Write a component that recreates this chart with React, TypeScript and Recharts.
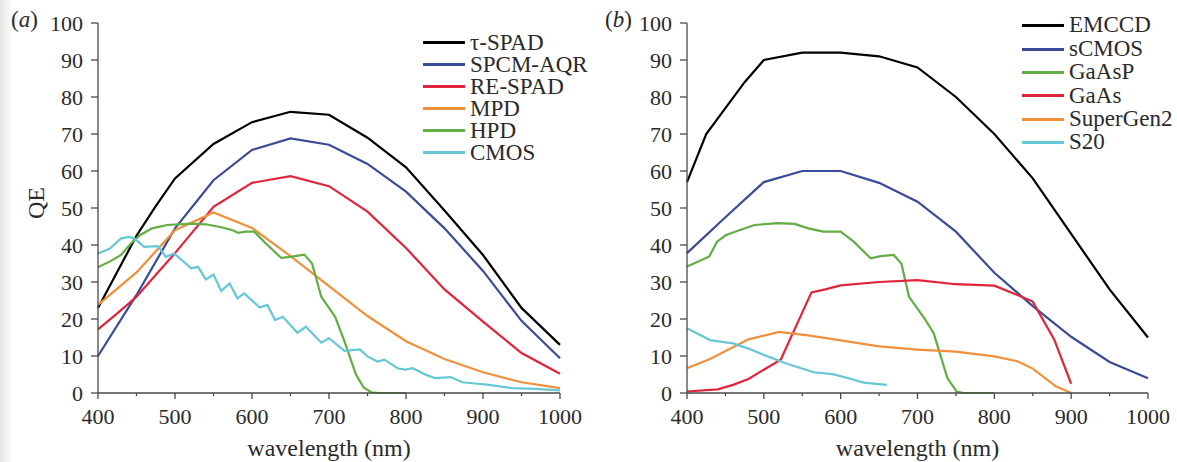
import React from 'react';
import { LineChart, Line, XAxis, YAxis, Legend } from 'recharts';

// wavelength (nm), QE (%) pairs
const tauSpad: [number, number][] = [[400, 23], [450, 42.5], [475, 50.5], [500, 58], [550, 67.3], [600, 73.2], [650, 76], [700, 75.2], [750, 69], [800, 61], [850, 49.3], [900, 37.3], [950, 23], [1000, 13]];
const spcmAqr: [number, number][] = [[400, 10], [450, 26.5], [500, 44.5], [550, 57.5], [600, 65.7], [650, 68.8], [700, 67.1], [750, 61.9], [800, 54.4], [850, 44.5], [900, 33], [950, 19.5], [1000, 9.4]];
const reSpad: [number, number][] = [[400, 17.2], [425, 21.5], [450, 26], [500, 37.8], [550, 50.3], [600, 56.8], [650, 58.6], [700, 55.9], [750, 49], [800, 39.2], [850, 28], [900, 19.3], [950, 10.8], [1000, 5.2]];
const mpd: [number, number][] = [[400, 23.8], [450, 32.6], [500, 44], [550, 48.8], [600, 44.6], [650, 37], [700, 28.9], [750, 20.8], [800, 14], [850, 9.2], [900, 5.6], [950, 2.9], [1000, 1.3]];
const hpd: [number, number][] = [[400, 34], [415, 35.5], [430, 37.3], [443, 40.5], [455, 42.7], [470, 44.5], [490, 45.4], [520, 45.8], [540, 45.6], [560, 44.8], [575, 44], [582, 43.3], [592, 43.6], [603, 43.6], [618, 40.4], [638, 36.5], [650, 36.8], [668, 37.4], [678, 35], [690, 26], [708, 20.6], [720, 14], [735, 5], [745, 1.5], [755, 0.2], [765, 0], [800, 0]];
const cmos: [number, number][] = [[400, 37.7], [415, 39], [430, 41.8], [440, 42.2], [447, 41.8], [460, 39.5], [478, 39.7], [488, 36.8], [499, 37.7], [521, 33.7], [530, 34.1], [540, 30.7], [550, 32], [560, 27.6], [571, 29.6], [581, 25.6], [590, 26.9], [610, 23.1], [620, 23.8], [630, 19.7], [640, 20.6], [659, 16.3], [670, 17.9], [690, 13.6], [700, 14.8], [720, 11.4], [740, 11.8], [750, 9.9], [763, 8.5], [772, 9], [789, 6.7], [799, 6.3], [809, 6.7], [826, 4.9], [838, 4], [858, 4.3], [873, 2.9], [893, 2.5], [908, 2.2], [938, 1.3], [968, 1.1], [1000, 0.7]];

const emccd: [number, number][] = [[400, 57], [425, 70], [450, 77], [475, 84], [500, 90], [550, 92], [600, 92], [650, 91], [700, 88], [750, 80], [800, 70], [850, 58], [900, 43], [950, 28], [1000, 15]];
const scmos: [number, number][] = [[400, 37.8], [450, 47.5], [500, 57], [550, 60], [600, 60], [650, 56.8], [700, 51.7], [750, 43.6], [800, 32.5], [850, 23.5], [900, 15.2], [950, 8.4], [1000, 4]];
const gaasp: [number, number][] = [[400, 34.2], [414, 35.5], [429, 36.9], [439, 40.9], [451, 42.7], [468, 44], [488, 45.4], [518, 45.9], [540, 45.7], [558, 44.5], [577, 43.6], [600, 43.6], [617, 40.9], [639, 36.4], [652, 37], [669, 37.3], [679, 35], [689, 26], [709, 20.2], [721, 16.2], [739, 4], [751, 0.4], [760, 0], [800, 0]];
const gaas: [number, number][] = [[400, 0.4], [440, 1], [460, 2.2], [480, 3.8], [500, 6.3], [522, 9], [562, 27.2], [580, 28], [600, 29.1], [650, 30], [700, 30.5], [750, 29.4], [800, 29], [830, 26.5], [850, 24.7], [878, 14.4], [900, 2.5]];
const superGen2: [number, number][] = [[400, 6.7], [430, 9.2], [480, 14.5], [520, 16.5], [560, 15.5], [600, 14.2], [650, 12.6], [700, 11.7], [750, 11.2], [800, 9.9], [830, 8.6], [850, 6.6], [880, 1.8], [900, 0]];
const s20: [number, number][] = [[400, 17.5], [430, 14.3], [460, 13.4], [480, 12], [500, 10.3], [530, 7.9], [565, 5.6], [590, 5.1], [610, 4], [630, 2.8], [660, 2.2]];

const xTicks = [400, 450, 500, 550, 600, 650, 700, 750, 800, 850, 900, 950, 1000];
const yTicks = [0, 10, 20, 30, 40, 50, 60, 70, 80, 90, 100];

const BLACK = '#000000';
const BLUE = '#3a4b98';
const RED = '#e0243a';
const ORANGE = '#f0903a';
const GREEN = '#62ad44';
const CYAN = '#66c8d6';

type Series = { name: string; data: [number, number][]; color: string };

const seriesA: Series[] = [
  { name: 'τ-SPAD', data: tauSpad, color: BLACK },
  { name: 'SPCM-AQR', data: spcmAqr, color: BLUE },
  { name: 'RE-SPAD', data: reSpad, color: RED },
  { name: 'MPD', data: mpd, color: ORANGE },
  { name: 'HPD', data: hpd, color: GREEN },
  { name: 'CMOS', data: cmos, color: CYAN },
];

const seriesB: Series[] = [
  { name: 'EMCCD', data: emccd, color: BLACK },
  { name: 'sCMOS', data: scmos, color: BLUE },
  { name: 'GaAsP', data: gaasp, color: GREEN },
  { name: 'GaAs', data: gaas, color: RED },
  { name: 'SuperGen2', data: superGen2, color: ORANGE },
  { name: 'S20', data: s20, color: CYAN },
];

const FONT = 'Liberation Serif, DejaVu Serif, serif';
const TEXT = '#2a2a2a';
const AXIS = '#4a4a4a';
const serif: React.CSSProperties = { fontFamily: FONT };

const toPoints = (pairs: [number, number][]) => pairs.map(([wl, qe]) => ({ wl, qe }));

const XTick = (props: any) => {
  const { x, y, payload } = props;
  const major = payload.value % 100 === 0;
  return (
    <g>
      <line x1={x} x2={x} y1={y} y2={y + (major ? 6 : 3)} stroke={AXIS} strokeWidth={1.3} />
      {major && (
        <text x={x} y={y + 31} textAnchor="middle" fill={TEXT} fontSize={22} style={serif}>
          {payload.value}
        </text>
      )}
    </g>
  );
};

const YTick = (props: any) => {
  const { x, y, payload } = props;
  return (
    <text x={x} y={y} textAnchor="end" dominantBaseline="central" fill={TEXT} fontSize={22} style={serif}>
      {payload.value}
    </text>
  );
};

const makeLegend = (series: Series[], rowHeight: number) => () => (
  <div style={{ fontFamily: FONT, fontSize: 23, color: TEXT }}>
    {series.map((s) => (
      <div
        key={s.name}
        style={{ display: 'flex', alignItems: 'center', height: rowHeight, lineHeight: `${rowHeight - 1}px`, whiteSpace: 'nowrap' }}
      >
        <span style={{ width: 42, borderTop: `3px solid ${s.color}` }} />
        <span style={{ marginLeft: 5 }}>{s.name}</span>
      </div>
    ))}
  </div>
);

const QELabel = (props: any) => {
  const { viewBox } = props;
  const cx = viewBox.x + 36;
  const cy = viewBox.y + viewBox.height / 2 - 5;
  return (
    <text x={cx} y={cy} transform={`rotate(-90 ${cx} ${cy})`} textAnchor="middle" dominantBaseline="central" fill={TEXT} fontSize={24} style={serif}>
      QE
    </text>
  );
};

const XLabel = (props: any) => {
  const { viewBox } = props;
  return (
    <text x={viewBox.x + viewBox.width / 2} y={viewBox.y + 63} textAnchor="middle" fill={TEXT} fontSize={24} style={serif}>
      wavelength (nm)
    </text>
  );
};

interface PanelProps {
  series: Series[];
  width: number;
  yAxisWidth: number;
  marginRight: number;
  showQE: boolean;
  legendLeft: number;
  legendTop: number;
  legendRow: number;
}

const Panel: React.FC<PanelProps> = ({ series, width, yAxisWidth, marginRight, showQE, legendLeft, legendTop, legendRow }) => (
  <LineChart width={width} height={462} margin={{ top: 23, right: marginRight, left: 0, bottom: 0 }} style={serif}>
    <XAxis
      type="number"
      dataKey="wl"
      domain={[400, 1000]}
      ticks={xTicks}
      interval={0}
      height={69}
      tickSize={0}
      tickMargin={0}
      tick={<XTick />}
      axisLine={{ stroke: AXIS, strokeWidth: 1.3 }}
      label={<XLabel />}
      allowDuplicatedCategory={false}
    />
    <YAxis
      type="number"
      dataKey="qe"
      domain={[0, 100]}
      ticks={yTicks}
      interval={0}
      width={yAxisWidth}
      tickSize={7}
      tickMargin={8}
      tick={<YTick />}
      tickLine={{ stroke: AXIS, strokeWidth: 1.3 }}
      axisLine={{ stroke: AXIS, strokeWidth: 1.3 }}
      label={showQE ? <QELabel /> : undefined}
    />
    <Legend
      layout="vertical"
      align="center"
      verticalAlign="middle"
      content={makeLegend(series, legendRow)}
      wrapperStyle={{ left: legendLeft, top: legendTop, width: 'auto', height: 'auto' }}
    />
    {series.map((s) => (
      <Line
        key={s.name}
        name={s.name}
        data={toPoints(s.data)}
        dataKey="qe"
        type="linear"
        stroke={s.color}
        strokeWidth={2.2}
        dot={false}
        activeDot={false}
        isAnimationActive={false}
      />
    ))}
  </LineChart>
);

const panelTag: React.CSSProperties = {
  position: 'absolute',
  top: 7,
  fontFamily: FONT,
  fontSize: 23,
  color: TEXT,
};

export default function App() {
  return (
    <div
      style={{
        position: 'absolute',
        left: 0,
        top: 0,
        width: 1177,
        height: 462,
        overflow: 'hidden',
        background: 'linear-gradient(to right, #e6e6e6 0px, #ffffff 14px, #ffffff 100%)',
      }}
    >
      <div style={{ position: 'absolute', left: 0, top: 0 }}>
        <Panel
          series={seriesA}
          width={590}
          yAxisWidth={98}
          marginRight={30}
          showQE
          legendLeft={423}
          legendTop={31}
          legendRow={22}
        />
      </div>
      <div style={{ position: 'absolute', left: 590, top: 0 }}>
        <Panel
          series={seriesB}
          width={587}
          yAxisWidth={97}
          marginRight={29}
          showQE={false}
          legendLeft={432}
          legendTop={14}
          legendRow={23.4}
        />
      </div>
      <div style={{ ...panelTag, left: 11 }}>
        (<i>a</i>)
      </div>
      <div style={{ ...panelTag, left: 605 }}>
        (<i>b</i>)
      </div>
    </div>
  );
}
